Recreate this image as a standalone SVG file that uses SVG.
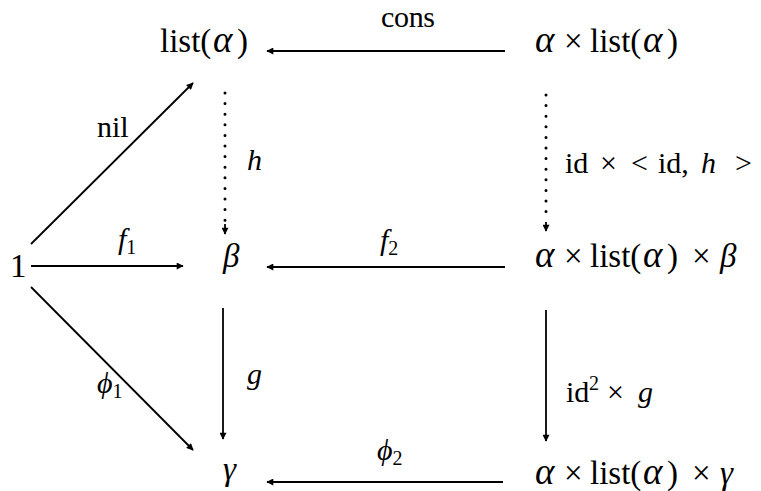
<svg xmlns="http://www.w3.org/2000/svg" width="761" height="491" viewBox="0 0 761 491">
<defs>
<style>
text{font-family:"Liberation Serif","DejaVu Serif",serif;font-size:33px;fill:#000}
.it{font-style:italic}
.a{font-style:italic;font-size:37px}
.sub{font-size:20px;font-style:normal}
.lbl{font-size:30px}
.edge{stroke:#000;stroke-width:1.8;fill:none}
.dot{stroke:#000;stroke-width:3;stroke-linecap:round;stroke-dasharray:0 10.6;fill:none}
</style>
<marker id="ah" viewBox="0 0 10 10" refX="9" refY="5" markerWidth="9" markerHeight="7" markerUnits="userSpaceOnUse" orient="auto">
<path d="M0,0 L10,5 L0,10 Z" fill="#000"/>
</marker>
</defs>
<rect width="761" height="491" fill="#fff"/>
<g id="connectors">
<line class="edge" x1="505" y1="51" x2="267" y2="51" marker-end="url(#ah)"/>
<line class="edge" x1="505" y1="267" x2="267" y2="267" marker-end="url(#ah)"/>
<line class="edge" x1="503" y1="482" x2="267" y2="482" marker-end="url(#ah)"/>
<line class="edge" x1="31" y1="266" x2="183" y2="266" marker-end="url(#ah)"/>
<line class="edge" x1="31" y1="244" x2="193" y2="83" marker-end="url(#ah)"/>
<line class="edge" x1="31" y1="287" x2="193" y2="450" marker-end="url(#ah)"/>
<line class="edge" x1="223" y1="308" x2="223" y2="439" marker-end="url(#ah)"/>
<line class="edge" x1="546" y1="310" x2="546" y2="441" marker-end="url(#ah)"/>
<line class="dot" x1="225" y1="93" x2="225" y2="222"/>
<line class="edge" x1="225" y1="224" x2="225" y2="234" marker-end="url(#ah)" stroke-width="1.2"/>
<line class="dot" x1="546" y1="95" x2="546" y2="220"/>
<line class="edge" x1="546" y1="222" x2="546" y2="231" marker-end="url(#ah)" stroke-width="1.2"/>
<text class="lbl" x="381" y="27" font-size="24" textLength="54" lengthAdjust="spacing">cons</text>
<text class="lbl" x="97" y="137">nil</text>
<text class="lbl it" x="247" y="170">h</text>
<text class="lbl" y="173"><tspan x="565">id</tspan><tspan x="600">×</tspan><tspan x="631">&lt;</tspan><tspan x="658">id,</tspan><tspan class="it" x="701">h</tspan><tspan x="735">&gt;</tspan></text>
<text class="lbl it" x="118" y="249">f<tspan class="sub" dy="5">1</tspan></text>
<text class="lbl it" x="380" y="250">f<tspan class="sub" dy="5">2</tspan></text>
<text class="lbl it" x="247" y="384">g</text>
<text class="lbl it" x="97" y="393">ϕ<tspan class="sub" dy="5">1</tspan></text>
<text class="lbl it" x="377" y="460">ϕ<tspan class="sub" dy="5">2</tspan></text>
<text class="lbl" y="402"><tspan x="566">id</tspan><tspan class="sub" x="589" dy="-12">2</tspan><tspan x="607" dy="12">×</tspan><tspan class="it" x="638">g</tspan></text>
</g>
<g id="n-list"><text y="52"><tspan x="160">list(</tspan><tspan class="a" x="213">α</tspan><tspan x="237">)</tspan></text></g>
<g id="n-alist"><text y="52"><tspan class="a" x="535">α</tspan><tspan x="564">×</tspan><tspan x="590">list(</tspan><tspan class="a" x="643">α</tspan><tspan x="667">)</tspan></text></g>
<g id="n-one"><text x="10" y="277">1</text></g>
<g id="n-beta"><text class="it" x="223" y="267">β</text></g>
<g id="n-alistbeta"><text y="267"><tspan class="a" x="535">α</tspan><tspan x="564">×</tspan><tspan x="590">list(</tspan><tspan class="a" x="643">α</tspan><tspan x="667">)</tspan><tspan x="692">×</tspan><tspan class="it" x="720">β</tspan></text></g>
<g id="n-gamma"><text class="it" x="223" y="480">γ</text></g>
<g id="n-alistgamma"><text y="484"><tspan class="a" x="535">α</tspan><tspan x="564">×</tspan><tspan x="590">list(</tspan><tspan class="a" x="643">α</tspan><tspan x="667">)</tspan><tspan x="692">×</tspan><tspan class="it" x="720">γ</tspan></text></g>
</svg>
